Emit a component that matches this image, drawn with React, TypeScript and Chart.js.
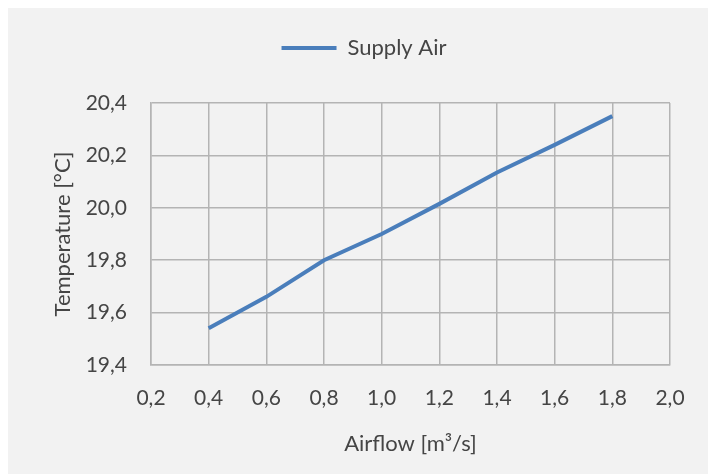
import React, { useEffect, useRef } from "react";
import { Chart, registerables } from "chart.js";

Chart.register(...registerables);

const airflow = [0.4, 0.6, 0.8, 1.0, 1.2, 1.4, 1.6, 1.8];
const supplyAir = [19.54, 19.66, 19.8, 19.9, 20.015, 20.135, 20.24, 20.35];
const seriesName = "Supply Air";
const xTitle = "Airflow [m³/s]";
const yTitle = "Temperature [°C]";

const FONT = "Lato, 'DejaVu Sans', sans-serif";
const TEXT = "#454545";
const GRID = "#b4b4b4";
const LINE = "#4a7ebb";

const fmt = (v: number) => Number(v).toFixed(1).replace(".", ",");

export default function App() {
  const ref = useRef<HTMLCanvasElement | null>(null);

  useEffect(() => {
    document.body.style.overflow = "hidden";
    const canvas = ref.current!;
    const legendMargin = {
      id: "legendMargin",
      beforeInit(chart: any) {
        const lg = chart.legend;
        if (!lg) return;
        const origFit = lg.fit;
        lg.fit = function () {
          origFit.call(this);
          this.height += 34;
        };
        const origDraw = lg.draw;
        lg.draw = function (...args: any[]) {
          const ctx = chart.ctx;
          ctx.save();
          ctx.translate(6, 0);
          origDraw.apply(this, args);
          ctx.restore();
        };
      },
    };
    const chart = new Chart(canvas, {
      type: "line",
      data: {
        datasets: [
          {
            label: seriesName,
            data: airflow.map((x, i) => ({ x, y: supplyAir[i] })),
            borderColor: LINE,
            backgroundColor: LINE,
            borderWidth: 4,
            pointRadius: 0,
            tension: 0,
          },
        ],
      },
      options: {
        animation: false,
        responsive: false,
        layout: { padding: { left: 38, right: 46, top: 19, bottom: 13 } },
        plugins: {
          legend: {
            position: "top",
            labels: {
              boxWidth: 55,
              boxHeight: 4,
              padding: 10,
              color: TEXT,
              font: { family: FONT, size: 22 },
              generateLabels: (chart: any) =>
                Chart.defaults.plugins.legend.labels
                  .generateLabels(chart)
                  .map((l: any) => ({ ...l, lineWidth: 0 })),
            },
          },
          tooltip: { enabled: false },
        },
        scales: {
          x: {
            type: "linear",
            min: 0.2,
            max: 2.0,
            ticks: {
              stepSize: 0.2,
              callback: (v: any) => fmt(v),
              color: TEXT,
              font: { family: FONT, size: 21 },
              padding: 21,
              maxRotation: 0,
              autoSkip: false,
            },
            grid: { color: GRID, lineWidth: 1.5, drawTicks: false },
            border: { color: GRID, width: 1.5 },
            title: {
              display: true,
              text: xTitle,
              color: TEXT,
              font: { family: FONT, size: 22 },
              padding: 4,
            },
            afterFit: (s: any) => {
              s.height = 96;
            },
          },
          y: {
            min: 19.4,
            max: 20.4,
            ticks: {
              stepSize: 0.2,
              callback: (v: any) => fmt(v),
              color: TEXT,
              font: { family: FONT, size: 21 },
              padding: 24,
            },
            grid: { color: GRID, lineWidth: 1.5, drawTicks: false },
            border: { color: GRID, width: 1.5 },
            title: {
              display: true,
              text: yTitle,
              color: TEXT,
              font: { family: FONT, size: 22 },
              padding: 4,
            },
            afterFit: (s: any) => {
              s.width = 105;
            },
          },
        },
      },
      plugins: [legendMargin],
    });
    return () => chart.destroy();
  }, []);

  return (
    <div style={{ width: 708, height: 466, background: "#f2f2f2" }}>
      <canvas ref={ref} width={708} height={466} style={{ display: "block" }} />
    </div>
  );
}
